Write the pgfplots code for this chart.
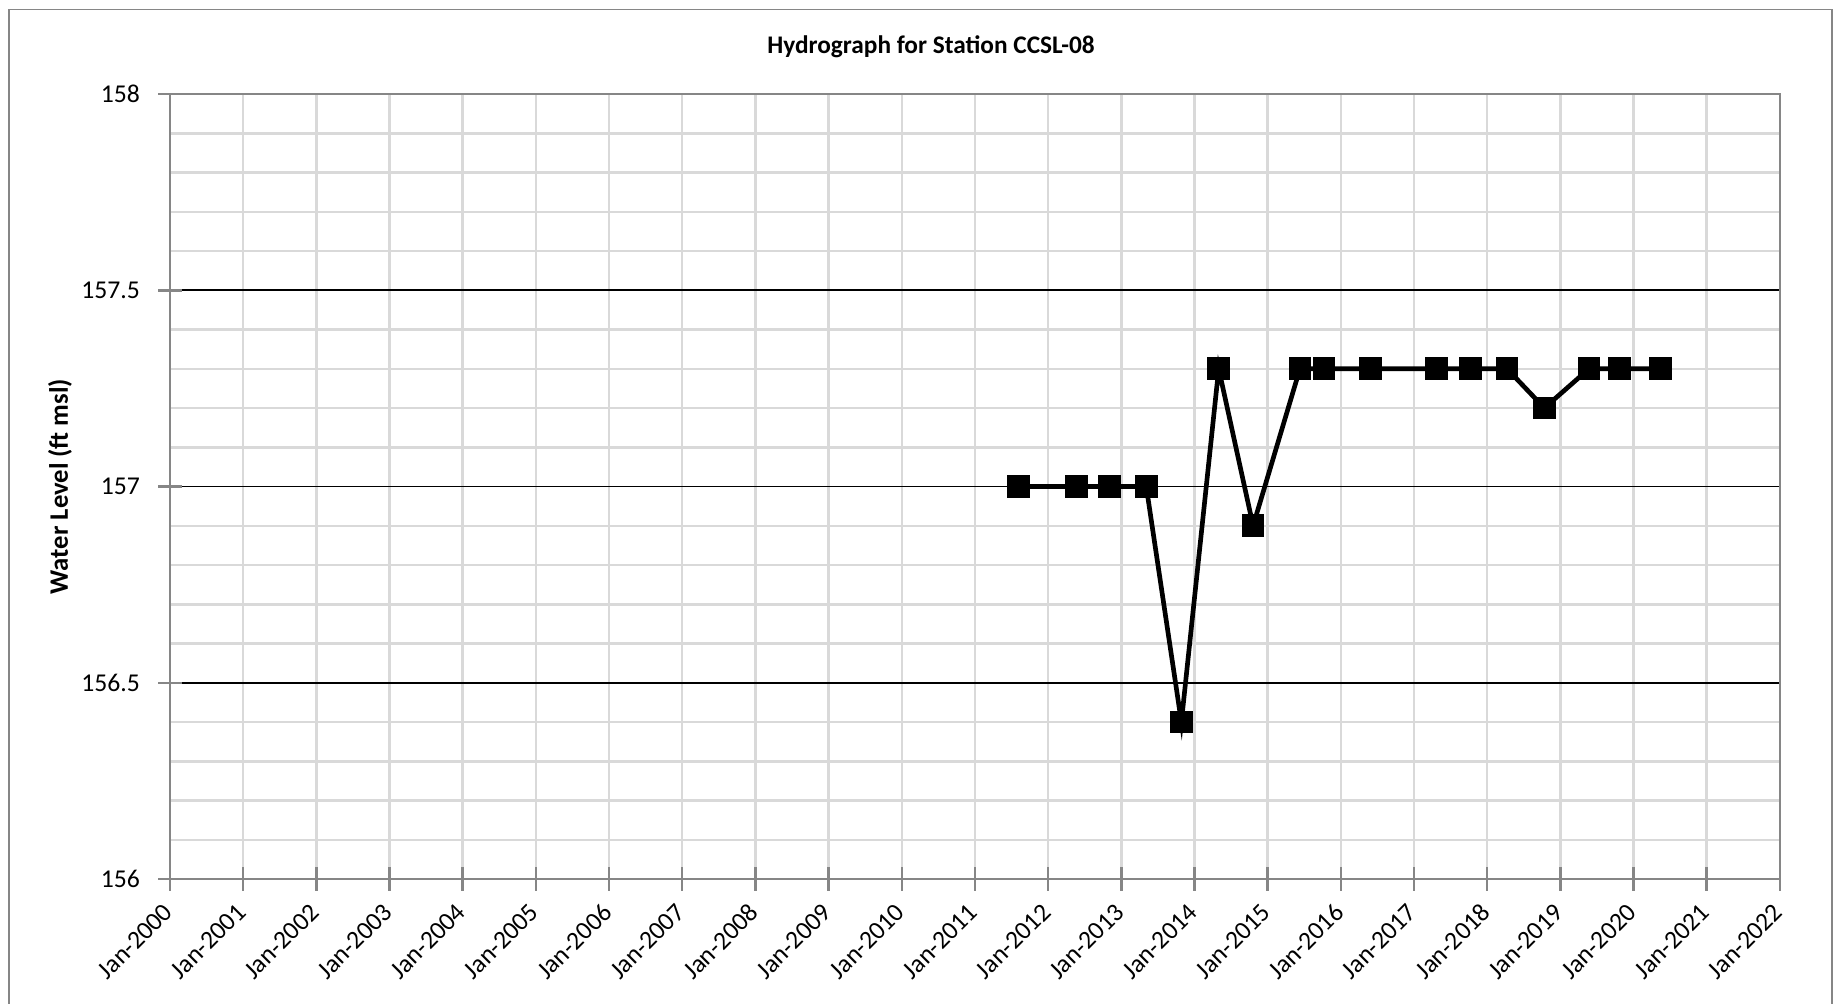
\documentclass[border=0pt]{standalone}
\usepackage{fontspec}
\setmainfont{Carlito}
\usepackage{pgfplots}
\pgfplotsset{compat=1.18}
\definecolor{axisgray}{HTML}{868686}
\definecolor{gridgray}{HTML}{D9D9D9}
\begin{document}
\begin{tikzpicture}
\useasboundingbox (-51pt,-37.2pt) rectangle (500.1pt,263.7pt);
% chart area border
\draw[axisgray, line width=0.5pt] (-48.2pt,-45pt) -- (-48.2pt,260.9pt) -- (498.6pt,260.9pt) -- (498.6pt,-45pt);
\begin{axis}[
    name=ax, at={(0,0)}, anchor=south west,
    scale only axis, width=483pt, height=235.5pt,
    xmin=2000, xmax=2022, ymin=156, ymax=158,
    xtick={2000,...,2022},
    xticklabels={Jan-2000,Jan-2001,Jan-2002,Jan-2003,Jan-2004,Jan-2005,Jan-2006,Jan-2007,Jan-2008,Jan-2009,Jan-2010,Jan-2011,Jan-2012,Jan-2013,Jan-2014,Jan-2015,Jan-2016,Jan-2017,Jan-2018,Jan-2019,Jan-2020,Jan-2021,Jan-2022},
    ytick={156,156.5,157,157.5,158},
    yticklabels={156,156.5,157,157.5,158},
    minor ytick={156.1,156.2,156.3,156.4,156.6,156.7,156.8,156.9,157.1,157.2,157.3,157.4,157.6,157.7,157.8,157.9},
    tick pos=left,
    tick align=center,
    major tick length=7pt,
    minor tick length=0pt,
    tick style={axisgray, line width=0.75pt},
    axis line style={axisgray, line width=0.75pt},
    grid=both,
    major x grid style={gridgray, line width=0.75pt},
    major y grid style={black, line width=0.5pt},
    minor y grid style={gridgray, line width=0.75pt},
    xticklabel shift=4.75pt,
    xticklabel style={rotate=45, anchor=east, font=\fontsize{7.7}{9}\selectfont, inner sep=1pt, xshift=0.5pt},
    yticklabel style={font=\fontsize{7.7}{9}\selectfont, xshift=-2pt},
]
\addplot[black, line width=1.4pt, mark=square*, mark size=2.7pt, mark options={solid, fill=black}] coordinates {
    (2011.59,157.0) (2012.39,157.0) (2012.84,157.0) (2013.34,157.0)
    (2013.82,156.4) (2014.33,157.3) (2014.80,156.9) (2015.44,157.3)
    (2015.77,157.3) (2016.40,157.3) (2017.31,157.3) (2017.77,157.3)
    (2018.27,157.3) (2018.78,157.2) (2019.39,157.3) (2019.81,157.3)
    (2020.37,157.3)
};
\end{axis}
\node[font=\bfseries\fontsize{7.6}{9}\selectfont] at (228.3pt,249.6pt) {Hydrograph for Station CCSL-08};
\node[font=\bfseries\fontsize{8}{9}\selectfont, rotate=90] at (-33pt,117.75pt) {Water Level (ft msl)};
\end{tikzpicture}
\end{document}
